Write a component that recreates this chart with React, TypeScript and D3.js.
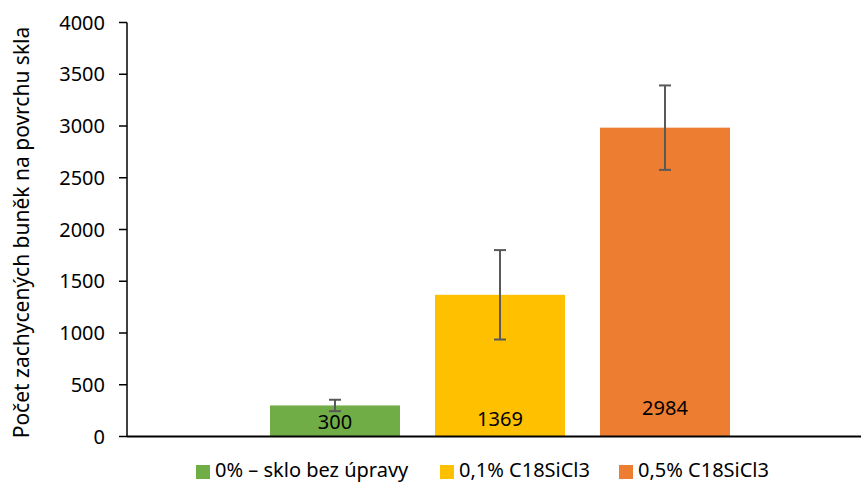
import React from "react";
import * as d3 from "d3";

const seriesNames = ["0% – sklo bez úpravy", "0,1% C18SiCl3", "0,5% C18SiCl3"];
const seriesValues = [300, 1369, 2984];
const seriesErrors = [55, 432, 408];
const seriesColors = ["#70AD47", "#FFC000", "#ED7D31"];
const yTicks = [0, 500, 1000, 1500, 2000, 2500, 3000, 3500, 4000];
const yTitle = "Počet zachycených buněk na povrchu skla";

const W = 861;
const H = 483;
const FONT = "'Noto Sans', 'Open Sans', sans-serif";

export default function App() {
  const plotLeft = 127;
  const plotRight = 861;
  const plotTop = 22.5;
  const plotBottom = 436.5;

  const y = d3.scaleLinear().domain([0, 4000]).range([plotBottom, plotTop]);
  const x = d3.scaleBand<string>().domain(seriesNames).range([270, 730]).paddingInner(35 / 165).paddingOuter(0);
  const bw = x.bandwidth();
  const labelOffsets = [8, 11, 22];

  const legendItems = [
    { sq: 196, tx: 215 },
    { sq: 440, tx: 459 },
    { sq: 619, tx: 638 },
  ];

  return (
    <svg width={W} height={H} style={{ display: "block", position: "absolute", left: 0, top: 0 }} fontFamily={FONT}>
      <rect width={W} height={H} fill="#fff" />
      {seriesNames.map((s, i) => (
        <rect key={s} x={x(s)} y={y(seriesValues[i])} width={bw} height={y(0) - y(seriesValues[i])} fill={seriesColors[i]} />
      ))}
      {seriesNames.map((s, i) => {
        const cx = (x(s) as number) + bw / 2;
        const t = y(seriesValues[i] + seriesErrors[i]);
        const b = y(seriesValues[i] - seriesErrors[i]);
        return (
          <g key={"e" + s} stroke="#595959" strokeWidth={2}>
            <line x1={cx} x2={cx} y1={t} y2={b} />
            <line x1={cx - 6} x2={cx + 6} y1={t} y2={t} />
            <line x1={cx - 6} x2={cx + 6} y1={b} y2={b} />
          </g>
        );
      })}
      {seriesNames.map((s, i) => (
        <text key={"l" + s} x={(x(s) as number) + bw / 2} y={y(0) - labelOffsets[i]} textAnchor="middle" fontSize={20} fill="#000">
          {seriesValues[i]}
        </text>
      ))}
      <line x1={plotLeft} x2={plotLeft} y1={plotTop} y2={plotBottom} stroke="#000" strokeWidth={1.5} />
      {yTicks.map((t) => (
        <g key={t}>
          <line x1={plotLeft - 8} x2={plotLeft} y1={y(t)} y2={y(t)} stroke="#000" strokeWidth={1.5} />
          <text x={plotLeft - 22} y={y(t)} dy="0.35em" textAnchor="end" fontSize={20} fill="#000">
            {t}
          </text>
        </g>
      ))}
      <line x1={plotLeft} x2={plotRight} y1={plotBottom} y2={plotBottom} stroke="#000" strokeWidth={2} />
      <text transform={`translate(29,${(plotTop + plotBottom) / 2 + 3}) rotate(-90)`} textAnchor="middle" fontSize={21} fill="#000">
        {yTitle}
      </text>
      {seriesNames.map((s, i) => (
        <g key={"lg" + s}>
          <rect x={legendItems[i].sq} y={465} width={14} height={14} fill={seriesColors[i]} />
          <text x={legendItems[i].tx} y={477} fontSize={20} fill="#000">
            {s}
          </text>
        </g>
      ))}
    </svg>
  );
}
